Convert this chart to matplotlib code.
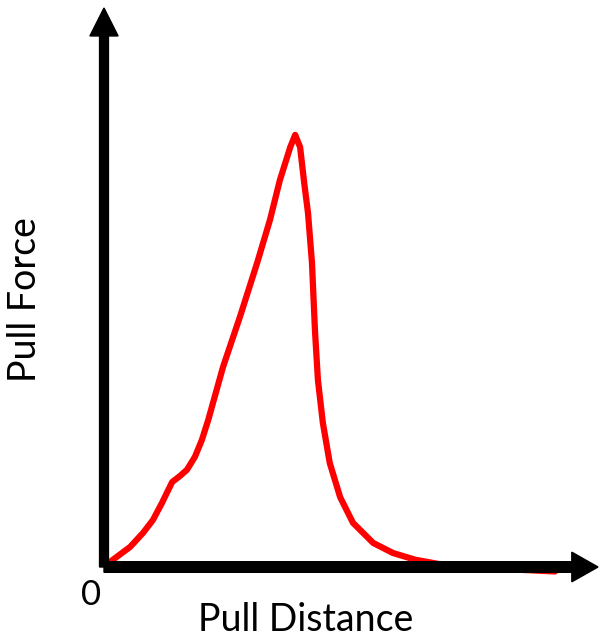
import matplotlib.pyplot as plt
from matplotlib.patches import FancyArrow

# pull curve (distance, force), arbitrary units
distance = [0.8, 1.2, 5.3, 7.9, 9.9, 11.7, 12.8, 13.8, 15.4, 16.8, 18.4,
            19.8, 21.1, 24.1, 27.5, 31.0, 33.6, 35.6, 37.7, 38.7, 39.7,
            40.5, 41.3, 42.1, 42.7, 43.3, 44.3, 45.7, 47.8, 50.4, 54.5,
            58.5, 63.0, 68.0, 76.1, 84.2, 91.3]
force = [0.4, 0.9, 3.6, 6.1, 8.4, 11.4, 13.4, 15.2, 16.3, 17.4, 19.7,
         22.7, 26.3, 35.8, 44.7, 54.4, 62.1, 69.2, 75.1, 77.3, 75.1,
         68.9, 63.3, 54.4, 42.4, 33.5, 25.8, 18.6, 12.5, 7.9, 4.3,
         2.5, 1.3, 0.5, 0.0, -0.5, -0.8]

plt.rcParams['font.family'] = ['Lato', 'DejaVu Sans']

W, H = 599, 641
fig = plt.figure(figsize=(W / 100, H / 100), dpi=100)
# axes origin sits at the corner of the two arrows
x0, y0 = 104, 567
ax = fig.add_axes([x0 / W, (H - y0) / H, (598 - x0) / W, (y0 - 8) / H])
ax.set_xlim(0, 100)
ax.set_ylim(0, 100)
ax.axis('off')

ax.plot(distance, force, color='#ff0000', lw=4.5, solid_joinstyle='round',
        solid_capstyle='round', zorder=2, clip_on=False)

# black arrow axes, drawn in axes fraction
ax.add_patch(FancyArrow(0, 0, 0, 1, width=0.018,
                        head_width=0.057, head_length=0.05,
                        length_includes_head=True, color='black',
                        transform=ax.transAxes, clip_on=False, zorder=3))
ax.add_patch(FancyArrow(0, 0, 1, 0, width=0.019,
                        head_width=0.053, head_length=0.053,
                        length_includes_head=True, color='black',
                        transform=ax.transAxes, clip_on=False, zorder=3))

fig.text(91 / W, 1 - 595 / H, '0', fontsize=25, ha='center', va='center')
fig.text(306 / W, 1 - 620 / H, 'Pull Distance', fontsize=27,
         ha='center', va='center')
fig.text(25 / W, 1 - 300 / H, 'Pull Force', fontsize=27, rotation=90,
         ha='center', va='center')

fig.savefig('out.png', dpi=100)
